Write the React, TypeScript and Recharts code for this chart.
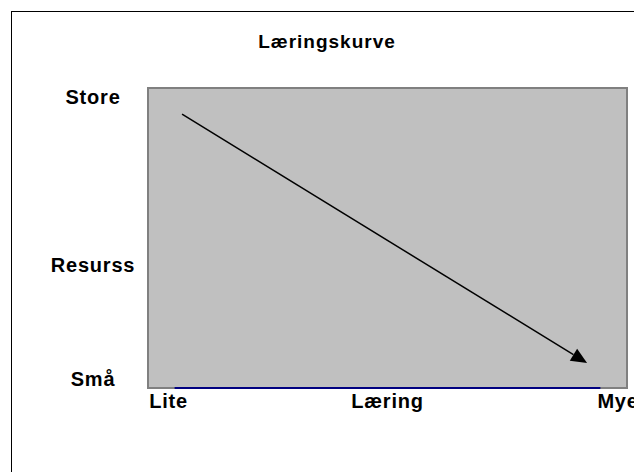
import React from 'react';
import {
  LineChart,
  Line,
  XAxis,
  YAxis,
  ReferenceArea,
  ReferenceLine,
} from 'recharts';

// Categories along "Læring" (only three of them carry a label)
const categories = ['1', '2', '3', '4', '5', '6', '7', '8', '9'];
const xTickLabels: Record<string, string> = { '1': 'Lite', '5': 'Læring', '9': 'Mye' };

// The flat blue series sitting on the floor of the plot
const baselineValues = [0, 0, 0, 0, 0, 0, 0, 0, 0];

// "Resurss" scale labels
const yTickValues = [97, 41, 3];
const yTickLabels = ['Store', 'Resurss', 'Små'];

// Arrow annotation, in data units (x on a 0..9 scale, y on 0..100)
const arrowFrom = { x: 0.64, y: 91.3 };
const arrowTo = { x: 8.25, y: 8.3 };

// pos = centre of each category on the 0..9 annotation scale
const data = categories.map((cat, i) => ({ cat, pos: i + 0.5, value: baselineValues[i] }));

const FONT = '"Liberation Sans", Arial, sans-serif';
const BORDER = '#808080';

const XTick = ({ x, y, payload }: any) => {
  const label = xTickLabels[payload.value];
  if (!label) return null;
  // the end labels sit a little off-centre in the original
  const anchor = payload.value === '9' ? 'start' : 'middle';
  const dx = payload.value === '1' ? -6 : payload.value === '9' ? -3 : 0;
  return (
    <text
      x={x + dx}
      y={y + 12}
      textAnchor={anchor}
      fontFamily={FONT}
      fontWeight="bold"
      fontSize={20}
      letterSpacing={0.8}
      fill="#000"
    >
      {label}
    </text>
  );
};

const YTick = ({ y, payload }: any) => {
  const idx = yTickValues.indexOf(payload.value);
  if (idx < 0) return null;
  return (
    <text
      x={93}
      y={y}
      dy="0.35em"
      textAnchor="middle"
      fontFamily={FONT}
      fontWeight="bold"
      fontSize={20}
      letterSpacing={0.8}
      fill="#000"
    >
      {yTickLabels[idx]}
    </text>
  );
};

const ArrowShape = ({ x1, y1, x2, y2 }: any) => {
  const ang = Math.atan2(y2 - y1, x2 - x1);
  const len = 16;
  const half = 7;
  const bx = x2 - len * Math.cos(ang);
  const by = y2 - len * Math.sin(ang);
  const px = -Math.sin(ang) * half;
  const py = Math.cos(ang) * half;
  return (
    <g>
      <line x1={x1} y1={y1} x2={bx} y2={by} stroke="#000" strokeWidth={1.5} />
      <polygon
        points={`${x2},${y2} ${bx + px},${by + py} ${bx - px},${by - py}`}
        fill="#000"
      />
    </g>
  );
};

export default function App() {
  return (
    <div
      style={{
        position: 'fixed',
        left: 0,
        top: 0,
        width: 634,
        height: 472,
        overflow: 'hidden',
        background: '#fff',
      }}
    >
      {/* outer chart frame, runs off the right and bottom edge */}
      <div
        style={{
          position: 'absolute',
          left: 11,
          top: 11,
          width: 700,
          height: 520,
          borderLeft: '1.5px solid #000',
          borderTop: '1.5px solid #000',
        }}
      />
      <div
        style={{
          position: 'absolute',
          left: 227,
          top: 32,
          width: 200,
          textAlign: 'center',
          fontFamily: FONT,
          fontWeight: 'bold',
          fontSize: 19,
          letterSpacing: 1,
          lineHeight: '19px',
          color: '#000',
        }}
      >
        Læringskurve
      </div>
      <div style={{ position: 'absolute', left: 0, top: 0 }}>
        <LineChart
          width={660}
          height={472}
          data={data}
          margin={{ top: 88, right: 33, left: 0, bottom: 54 }}
        >
          <XAxis
            dataKey="cat"
            scale="band"
            height={30}
            axisLine={false}
            tickLine={false}
            interval={0}
            tick={<XTick />}
          />
          <XAxis
            xAxisId="arrow"
            dataKey="pos"
            type="number"
            domain={[0, 9]}
            allowDataOverflow
            hide
          />
          <YAxis
            width={148}
            domain={[0, 100]}
            ticks={yTickValues}
            axisLine={false}
            tickLine={false}
            tick={<YTick />}
            interval={0}
          />
          <ReferenceArea
            xAxisId="arrow"
            x1={0}
            x2={9}
            y1={0}
            y2={100}
            fill="#c0c0c0"
            fillOpacity={1}
            stroke={BORDER}
            strokeWidth={2}
            ifOverflow="visible"
          />
          <Line
            dataKey="value"
            stroke="#000080"
            strokeWidth={2}
            dot={false}
            isAnimationActive={false}
          />
          <ReferenceLine
            xAxisId="arrow"
            segment={[arrowFrom, arrowTo]}
            shape={<ArrowShape />}
            ifOverflow="visible"
          />
        </LineChart>
      </div>
    </div>
  );
}
